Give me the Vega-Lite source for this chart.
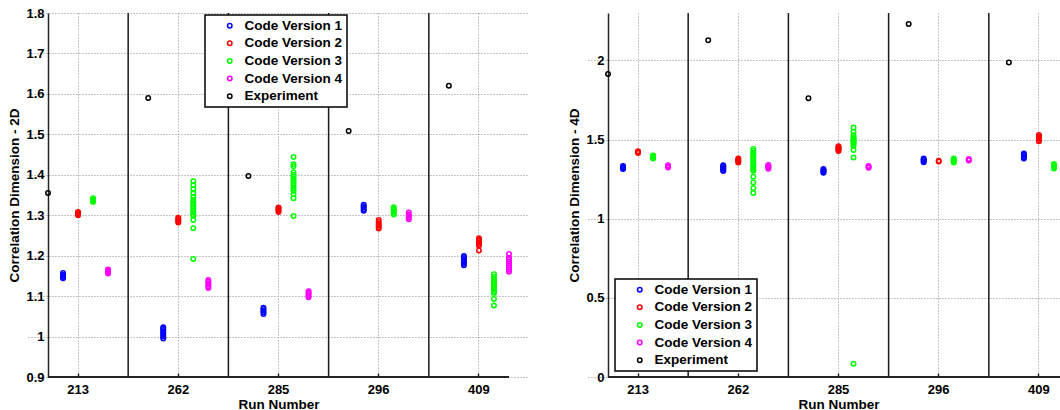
{
  "$schema": "https://vega.github.io/schema/vega-lite/v6.json",
  "background": "white",
  "padding": {"left": 7, "top": 7, "right": 0, "bottom": 0},
  "spacing": 17,
  "config": {
    "view": {"stroke": null},
    "font": "Liberation Sans",
    "point": {"shape": "circle", "filled": false, "size": 20, "strokeWidth": 1.5, "opacity": 1},
    "axis": {
      "domainColor": "#262626",
      "domainWidth": 1.5,
      "labelFont": "Liberation Sans",
      "labelFontWeight": "bold",
      "labelFontSize": 13,
      "labelColor": "#000000",
      "titleFont": "Liberation Sans",
      "titleFontWeight": "bold",
      "titleFontSize": 13.5,
      "titleColor": "#000000",
      "grid": true,
      "gridColor": "#8c8c8c",
      "gridDash": [1, 2],
      "gridWidth": 1,
      "gridOpacity": 1,
      "tickColor": "#262626",
      "tickWidth": 1.5
    },
    "axisX": {"domain": false, "tickSize": -4, "labelPadding": 10, "titlePadding": 1, "labelAngle": 0, "bandPosition": 0.5},
    "axisY": {"ticks": false, "labelPadding": 4, "titlePadding": 4},
    "legend": {
      "orient": "none",
      "title": null,
      "strokeColor": "#000000",
      "strokeWidth": 1.5,
      "fillColor": "#ffffff",
      "padding": 4,
      "rowPadding": 2.6,
      "symbolType": "circle",
      "symbolSize": 20,
      "symbolStrokeWidth": 1.5,
      "symbolOffset": 14,
      "labelOffset": 8,
      "labelFont": "Liberation Sans",
      "labelFontWeight": "bold",
      "labelFontSize": 13.5,
      "labelColor": "#000000"
    }
  },
  "datasets": {
    "separators": [{"run": 262}, {"run": 285}, {"run": 296}, {"run": 409}],
    "dim2": [
      {"run": 213, "series": "Experiment", "value": 1.355},
      {"run": 213, "series": "Code Version 1", "value": 1.144},
      {"run": 213, "series": "Code Version 1", "value": 1.147},
      {"run": 213, "series": "Code Version 1", "value": 1.150},
      {"run": 213, "series": "Code Version 1", "value": 1.153},
      {"run": 213, "series": "Code Version 1", "value": 1.157},
      {"run": 213, "series": "Code Version 2", "value": 1.300},
      {"run": 213, "series": "Code Version 2", "value": 1.302},
      {"run": 213, "series": "Code Version 2", "value": 1.304},
      {"run": 213, "series": "Code Version 2", "value": 1.306},
      {"run": 213, "series": "Code Version 2", "value": 1.308},
      {"run": 213, "series": "Code Version 3", "value": 1.333},
      {"run": 213, "series": "Code Version 3", "value": 1.335},
      {"run": 213, "series": "Code Version 3", "value": 1.337},
      {"run": 213, "series": "Code Version 3", "value": 1.339},
      {"run": 213, "series": "Code Version 3", "value": 1.342},
      {"run": 213, "series": "Code Version 4", "value": 1.156},
      {"run": 213, "series": "Code Version 4", "value": 1.158},
      {"run": 213, "series": "Code Version 4", "value": 1.161},
      {"run": 213, "series": "Code Version 4", "value": 1.164},
      {"run": 213, "series": "Code Version 4", "value": 1.166},
      {"run": 262, "series": "Experiment", "value": 1.590},
      {"run": 262, "series": "Code Version 1", "value": 0.995},
      {"run": 262, "series": "Code Version 1", "value": 1.000},
      {"run": 262, "series": "Code Version 1", "value": 1.004},
      {"run": 262, "series": "Code Version 1", "value": 1.008},
      {"run": 262, "series": "Code Version 1", "value": 1.012},
      {"run": 262, "series": "Code Version 1", "value": 1.016},
      {"run": 262, "series": "Code Version 1", "value": 1.020},
      {"run": 262, "series": "Code Version 1", "value": 1.023},
      {"run": 262, "series": "Code Version 2", "value": 1.282},
      {"run": 262, "series": "Code Version 2", "value": 1.285},
      {"run": 262, "series": "Code Version 2", "value": 1.288},
      {"run": 262, "series": "Code Version 2", "value": 1.291},
      {"run": 262, "series": "Code Version 2", "value": 1.294},
      {"run": 262, "series": "Code Version 3", "value": 1.384},
      {"run": 262, "series": "Code Version 3", "value": 1.374},
      {"run": 262, "series": "Code Version 3", "value": 1.364},
      {"run": 262, "series": "Code Version 3", "value": 1.355},
      {"run": 262, "series": "Code Version 3", "value": 1.345},
      {"run": 262, "series": "Code Version 3", "value": 1.338},
      {"run": 262, "series": "Code Version 3", "value": 1.332},
      {"run": 262, "series": "Code Version 3", "value": 1.327},
      {"run": 262, "series": "Code Version 3", "value": 1.322},
      {"run": 262, "series": "Code Version 3", "value": 1.317},
      {"run": 262, "series": "Code Version 3", "value": 1.312},
      {"run": 262, "series": "Code Version 3", "value": 1.307},
      {"run": 262, "series": "Code Version 3", "value": 1.302},
      {"run": 262, "series": "Code Version 3", "value": 1.298},
      {"run": 262, "series": "Code Version 3", "value": 1.288},
      {"run": 262, "series": "Code Version 3", "value": 1.268},
      {"run": 262, "series": "Code Version 3", "value": 1.192},
      {"run": 262, "series": "Code Version 4", "value": 1.120},
      {"run": 262, "series": "Code Version 4", "value": 1.124},
      {"run": 262, "series": "Code Version 4", "value": 1.128},
      {"run": 262, "series": "Code Version 4", "value": 1.132},
      {"run": 262, "series": "Code Version 4", "value": 1.136},
      {"run": 262, "series": "Code Version 4", "value": 1.140},
      {"run": 285, "series": "Experiment", "value": 1.397},
      {"run": 285, "series": "Code Version 1", "value": 1.056},
      {"run": 285, "series": "Code Version 1", "value": 1.060},
      {"run": 285, "series": "Code Version 1", "value": 1.064},
      {"run": 285, "series": "Code Version 1", "value": 1.068},
      {"run": 285, "series": "Code Version 1", "value": 1.071},
      {"run": 285, "series": "Code Version 2", "value": 1.308},
      {"run": 285, "series": "Code Version 2", "value": 1.311},
      {"run": 285, "series": "Code Version 2", "value": 1.314},
      {"run": 285, "series": "Code Version 2", "value": 1.317},
      {"run": 285, "series": "Code Version 2", "value": 1.319},
      {"run": 285, "series": "Code Version 3", "value": 1.444},
      {"run": 285, "series": "Code Version 3", "value": 1.426},
      {"run": 285, "series": "Code Version 3", "value": 1.421},
      {"run": 285, "series": "Code Version 3", "value": 1.406},
      {"run": 285, "series": "Code Version 3", "value": 1.400},
      {"run": 285, "series": "Code Version 3", "value": 1.395},
      {"run": 285, "series": "Code Version 3", "value": 1.389},
      {"run": 285, "series": "Code Version 3", "value": 1.384},
      {"run": 285, "series": "Code Version 3", "value": 1.379},
      {"run": 285, "series": "Code Version 3", "value": 1.373},
      {"run": 285, "series": "Code Version 3", "value": 1.366},
      {"run": 285, "series": "Code Version 3", "value": 1.360},
      {"run": 285, "series": "Code Version 3", "value": 1.352},
      {"run": 285, "series": "Code Version 3", "value": 1.342},
      {"run": 285, "series": "Code Version 3", "value": 1.298},
      {"run": 285, "series": "Code Version 4", "value": 1.097},
      {"run": 285, "series": "Code Version 4", "value": 1.101},
      {"run": 285, "series": "Code Version 4", "value": 1.105},
      {"run": 285, "series": "Code Version 4", "value": 1.109},
      {"run": 285, "series": "Code Version 4", "value": 1.112},
      {"run": 296, "series": "Experiment", "value": 1.508},
      {"run": 296, "series": "Code Version 1", "value": 1.311},
      {"run": 296, "series": "Code Version 1", "value": 1.315},
      {"run": 296, "series": "Code Version 1", "value": 1.319},
      {"run": 296, "series": "Code Version 1", "value": 1.322},
      {"run": 296, "series": "Code Version 1", "value": 1.326},
      {"run": 296, "series": "Code Version 2", "value": 1.267},
      {"run": 296, "series": "Code Version 2", "value": 1.271},
      {"run": 296, "series": "Code Version 2", "value": 1.275},
      {"run": 296, "series": "Code Version 2", "value": 1.279},
      {"run": 296, "series": "Code Version 2", "value": 1.283},
      {"run": 296, "series": "Code Version 2", "value": 1.288},
      {"run": 296, "series": "Code Version 3", "value": 1.302},
      {"run": 296, "series": "Code Version 3", "value": 1.306},
      {"run": 296, "series": "Code Version 3", "value": 1.310},
      {"run": 296, "series": "Code Version 3", "value": 1.314},
      {"run": 296, "series": "Code Version 3", "value": 1.317},
      {"run": 296, "series": "Code Version 3", "value": 1.320},
      {"run": 296, "series": "Code Version 4", "value": 1.290},
      {"run": 296, "series": "Code Version 4", "value": 1.294},
      {"run": 296, "series": "Code Version 4", "value": 1.298},
      {"run": 296, "series": "Code Version 4", "value": 1.302},
      {"run": 296, "series": "Code Version 4", "value": 1.307},
      {"run": 409, "series": "Experiment", "value": 1.620},
      {"run": 409, "series": "Code Version 1", "value": 1.176},
      {"run": 409, "series": "Code Version 1", "value": 1.180},
      {"run": 409, "series": "Code Version 1", "value": 1.184},
      {"run": 409, "series": "Code Version 1", "value": 1.188},
      {"run": 409, "series": "Code Version 1", "value": 1.192},
      {"run": 409, "series": "Code Version 1", "value": 1.196},
      {"run": 409, "series": "Code Version 1", "value": 1.199},
      {"run": 409, "series": "Code Version 2", "value": 1.213},
      {"run": 409, "series": "Code Version 2", "value": 1.225},
      {"run": 409, "series": "Code Version 2", "value": 1.229},
      {"run": 409, "series": "Code Version 2", "value": 1.233},
      {"run": 409, "series": "Code Version 2", "value": 1.237},
      {"run": 409, "series": "Code Version 2", "value": 1.240},
      {"run": 409, "series": "Code Version 2", "value": 1.243},
      {"run": 409, "series": "Code Version 3", "value": 1.154},
      {"run": 409, "series": "Code Version 3", "value": 1.147},
      {"run": 409, "series": "Code Version 3", "value": 1.142},
      {"run": 409, "series": "Code Version 3", "value": 1.137},
      {"run": 409, "series": "Code Version 3", "value": 1.132},
      {"run": 409, "series": "Code Version 3", "value": 1.127},
      {"run": 409, "series": "Code Version 3", "value": 1.122},
      {"run": 409, "series": "Code Version 3", "value": 1.117},
      {"run": 409, "series": "Code Version 3", "value": 1.112},
      {"run": 409, "series": "Code Version 3", "value": 1.108},
      {"run": 409, "series": "Code Version 3", "value": 1.093},
      {"run": 409, "series": "Code Version 3", "value": 1.077},
      {"run": 409, "series": "Code Version 4", "value": 1.204},
      {"run": 409, "series": "Code Version 4", "value": 1.195},
      {"run": 409, "series": "Code Version 4", "value": 1.190},
      {"run": 409, "series": "Code Version 4", "value": 1.185},
      {"run": 409, "series": "Code Version 4", "value": 1.180},
      {"run": 409, "series": "Code Version 4", "value": 1.175},
      {"run": 409, "series": "Code Version 4", "value": 1.170},
      {"run": 409, "series": "Code Version 4", "value": 1.165},
      {"run": 409, "series": "Code Version 4", "value": 1.160}
    ],
    "dim4": [
      {"run": 213, "series": "Experiment", "value": 1.915},
      {"run": 213, "series": "Code Version 1", "value": 1.314},
      {"run": 213, "series": "Code Version 1", "value": 1.319},
      {"run": 213, "series": "Code Version 1", "value": 1.324},
      {"run": 213, "series": "Code Version 1", "value": 1.329},
      {"run": 213, "series": "Code Version 1", "value": 1.334},
      {"run": 213, "series": "Code Version 2", "value": 1.415},
      {"run": 213, "series": "Code Version 2", "value": 1.421},
      {"run": 213, "series": "Code Version 2", "value": 1.427},
      {"run": 213, "series": "Code Version 3", "value": 1.381},
      {"run": 213, "series": "Code Version 3", "value": 1.386},
      {"run": 213, "series": "Code Version 3", "value": 1.391},
      {"run": 213, "series": "Code Version 3", "value": 1.395},
      {"run": 213, "series": "Code Version 3", "value": 1.399},
      {"run": 213, "series": "Code Version 4", "value": 1.324},
      {"run": 213, "series": "Code Version 4", "value": 1.331},
      {"run": 213, "series": "Code Version 4", "value": 1.338},
      {"run": 262, "series": "Experiment", "value": 2.128},
      {"run": 262, "series": "Code Version 1", "value": 1.302},
      {"run": 262, "series": "Code Version 1", "value": 1.308},
      {"run": 262, "series": "Code Version 1", "value": 1.314},
      {"run": 262, "series": "Code Version 1", "value": 1.320},
      {"run": 262, "series": "Code Version 1", "value": 1.326},
      {"run": 262, "series": "Code Version 1", "value": 1.332},
      {"run": 262, "series": "Code Version 1", "value": 1.338},
      {"run": 262, "series": "Code Version 2", "value": 1.356},
      {"run": 262, "series": "Code Version 2", "value": 1.362},
      {"run": 262, "series": "Code Version 2", "value": 1.368},
      {"run": 262, "series": "Code Version 2", "value": 1.374},
      {"run": 262, "series": "Code Version 2", "value": 1.380},
      {"run": 262, "series": "Code Version 3", "value": 1.440},
      {"run": 262, "series": "Code Version 3", "value": 1.428},
      {"run": 262, "series": "Code Version 3", "value": 1.416},
      {"run": 262, "series": "Code Version 3", "value": 1.404},
      {"run": 262, "series": "Code Version 3", "value": 1.392},
      {"run": 262, "series": "Code Version 3", "value": 1.380},
      {"run": 262, "series": "Code Version 3", "value": 1.368},
      {"run": 262, "series": "Code Version 3", "value": 1.356},
      {"run": 262, "series": "Code Version 3", "value": 1.344},
      {"run": 262, "series": "Code Version 3", "value": 1.332},
      {"run": 262, "series": "Code Version 3", "value": 1.320},
      {"run": 262, "series": "Code Version 3", "value": 1.310},
      {"run": 262, "series": "Code Version 3", "value": 1.303},
      {"run": 262, "series": "Code Version 3", "value": 1.266},
      {"run": 262, "series": "Code Version 3", "value": 1.229},
      {"run": 262, "series": "Code Version 3", "value": 1.193},
      {"run": 262, "series": "Code Version 3", "value": 1.163},
      {"run": 262, "series": "Code Version 4", "value": 1.316},
      {"run": 262, "series": "Code Version 4", "value": 1.322},
      {"run": 262, "series": "Code Version 4", "value": 1.328},
      {"run": 262, "series": "Code Version 4", "value": 1.334},
      {"run": 262, "series": "Code Version 4", "value": 1.340},
      {"run": 285, "series": "Experiment", "value": 1.761},
      {"run": 285, "series": "Code Version 1", "value": 1.290},
      {"run": 285, "series": "Code Version 1", "value": 1.296},
      {"run": 285, "series": "Code Version 1", "value": 1.302},
      {"run": 285, "series": "Code Version 1", "value": 1.308},
      {"run": 285, "series": "Code Version 1", "value": 1.314},
      {"run": 285, "series": "Code Version 2", "value": 1.428},
      {"run": 285, "series": "Code Version 2", "value": 1.434},
      {"run": 285, "series": "Code Version 2", "value": 1.440},
      {"run": 285, "series": "Code Version 2", "value": 1.446},
      {"run": 285, "series": "Code Version 2", "value": 1.452},
      {"run": 285, "series": "Code Version 2", "value": 1.458},
      {"run": 285, "series": "Code Version 3", "value": 1.577},
      {"run": 285, "series": "Code Version 3", "value": 1.549},
      {"run": 285, "series": "Code Version 3", "value": 1.528},
      {"run": 285, "series": "Code Version 3", "value": 1.513},
      {"run": 285, "series": "Code Version 3", "value": 1.505},
      {"run": 285, "series": "Code Version 3", "value": 1.498},
      {"run": 285, "series": "Code Version 3", "value": 1.492},
      {"run": 285, "series": "Code Version 3", "value": 1.485},
      {"run": 285, "series": "Code Version 3", "value": 1.478},
      {"run": 285, "series": "Code Version 3", "value": 1.470},
      {"run": 285, "series": "Code Version 3", "value": 1.460},
      {"run": 285, "series": "Code Version 3", "value": 1.435},
      {"run": 285, "series": "Code Version 3", "value": 1.387},
      {"run": 285, "series": "Code Version 3", "value": 0.084},
      {"run": 285, "series": "Code Version 4", "value": 1.322},
      {"run": 285, "series": "Code Version 4", "value": 1.328},
      {"run": 285, "series": "Code Version 4", "value": 1.334},
      {"run": 296, "series": "Experiment", "value": 2.231},
      {"run": 296, "series": "Code Version 1", "value": 1.357},
      {"run": 296, "series": "Code Version 1", "value": 1.363},
      {"run": 296, "series": "Code Version 1", "value": 1.369},
      {"run": 296, "series": "Code Version 1", "value": 1.375},
      {"run": 296, "series": "Code Version 1", "value": 1.381},
      {"run": 296, "series": "Code Version 2", "value": 1.362},
      {"run": 296, "series": "Code Version 2", "value": 1.366},
      {"run": 296, "series": "Code Version 3", "value": 1.356},
      {"run": 296, "series": "Code Version 3", "value": 1.362},
      {"run": 296, "series": "Code Version 3", "value": 1.368},
      {"run": 296, "series": "Code Version 3", "value": 1.374},
      {"run": 296, "series": "Code Version 3", "value": 1.380},
      {"run": 296, "series": "Code Version 4", "value": 1.368},
      {"run": 296, "series": "Code Version 4", "value": 1.373},
      {"run": 296, "series": "Code Version 4", "value": 1.378},
      {"run": 409, "series": "Experiment", "value": 1.987},
      {"run": 409, "series": "Code Version 1", "value": 1.381},
      {"run": 409, "series": "Code Version 1", "value": 1.389},
      {"run": 409, "series": "Code Version 1", "value": 1.397},
      {"run": 409, "series": "Code Version 1", "value": 1.405},
      {"run": 409, "series": "Code Version 1", "value": 1.413},
      {"run": 409, "series": "Code Version 2", "value": 1.489},
      {"run": 409, "series": "Code Version 2", "value": 1.497},
      {"run": 409, "series": "Code Version 2", "value": 1.505},
      {"run": 409, "series": "Code Version 2", "value": 1.513},
      {"run": 409, "series": "Code Version 2", "value": 1.521},
      {"run": 409, "series": "Code Version 2", "value": 1.529},
      {"run": 409, "series": "Code Version 3", "value": 1.318},
      {"run": 409, "series": "Code Version 3", "value": 1.325},
      {"run": 409, "series": "Code Version 3", "value": 1.332},
      {"run": 409, "series": "Code Version 3", "value": 1.339},
      {"run": 409, "series": "Code Version 3", "value": 1.346}
    ]
  },
  "resolve": {"scale": {"x": "independent", "y": "independent", "color": "independent"}, "legend": {"color": "independent"}},
  "hconcat": [
    {
      "width": 461,
      "height": 364,
      "layer": [
        {
          "data": {"name": "separators"},
          "mark": {"type": "rule", "color": "#1a1a1a", "strokeWidth": 1.5},
          "encoding": {
            "x": {
              "field": "run", "type": "nominal", "bandPosition": 0,
              "scale": {"domain": [213, 262, 285, 296, 409], "paddingInner": 0, "paddingOuter": 0, "range": [-20.04, 481.04]},
              "axis": {"title": "Run Number"}
            }
          }
        },
        {
          "data": {"name": "separators"},
          "mark": {"type": "rule", "color": "#262626", "strokeWidth": 1.5},
          "encoding": {"y": {"datum": 0.9}}
        },
        {
          "data": {"name": "dim2"},
          "encoding": {
            "y": {
              "field": "value", "type": "quantitative",
              "scale": {"domain": [0.9, 1.8], "nice": false, "zero": false},
              "axis": {"title": "Correlation Dimension - 2D", "values": [0.9, 1, 1.1, 1.2, 1.3, 1.4, 1.5, 1.6, 1.7, 1.8], "format": ".1~f"}
            },
            "color": {
              "field": "series", "type": "nominal",
              "scale": {"domain": ["Code Version 1", "Code Version 2", "Code Version 3", "Code Version 4", "Experiment"], "range": ["#0000ff", "#ff0000", "#00ff00", "#ff00ff", "#000000"]},
              "legend": {"legendX": 157, "legendY": 2}
            }
          },
          "layer": [
            {
              "transform": [{"filter": "datum.series === 'Experiment'"}],
              "mark": "point",
              "encoding": {"x": {"field": "run", "type": "nominal", "bandPosition": 0.2}}
            },
            {
              "transform": [{"filter": "datum.series === 'Code Version 1'"}],
              "mark": "point",
              "encoding": {"x": {"field": "run", "type": "nominal", "bandPosition": 0.35}}
            },
            {
              "transform": [{"filter": "datum.series === 'Code Version 2'"}],
              "mark": "point",
              "encoding": {"x": {"field": "run", "type": "nominal", "bandPosition": 0.5}}
            },
            {
              "transform": [{"filter": "datum.series === 'Code Version 3'"}],
              "mark": "point",
              "encoding": {"x": {"field": "run", "type": "nominal", "bandPosition": 0.65}}
            },
            {
              "transform": [{"filter": "datum.series === 'Code Version 4'"}],
              "mark": "point",
              "encoding": {"x": {"field": "run", "type": "nominal", "bandPosition": 0.8}}
            }
          ]
        }
      ]
    },
    {
      "width": 452,
      "height": 364,
      "layer": [
        {
          "data": {"name": "separators"},
          "mark": {"type": "rule", "color": "#1a1a1a", "strokeWidth": 1.5},
          "encoding": {
            "x": {
              "field": "run", "type": "nominal", "bandPosition": 0,
              "scale": {"domain": [213, 262, 285, 296, 409], "paddingInner": 0, "paddingOuter": 0, "range": [-20.04, 481.04]},
              "axis": {"title": "Run Number"}
            }
          }
        },
        {
          "data": {"name": "separators"},
          "mark": {"type": "rule", "color": "#262626", "strokeWidth": 1.5},
          "encoding": {"y": {"datum": 0}}
        },
        {
          "data": {"name": "dim4"},
          "encoding": {
            "y": {
              "field": "value", "type": "quantitative",
              "scale": {"domain": [0, 2.3], "nice": false, "zero": false},
              "axis": {"title": "Correlation Dimension - 4D", "values": [0, 0.5, 1, 1.5, 2], "format": ".1~f"}
            },
            "color": {
              "field": "series", "type": "nominal",
              "scale": {"domain": ["Code Version 1", "Code Version 2", "Code Version 3", "Code Version 4", "Experiment"], "range": ["#0000ff", "#ff0000", "#00ff00", "#ff00ff", "#000000"]},
              "legend": {"legendX": 7, "legendY": 266}
            }
          },
          "layer": [
            {
              "transform": [{"filter": "datum.series === 'Experiment'"}],
              "mark": "point",
              "encoding": {"x": {"field": "run", "type": "nominal", "bandPosition": 0.2}}
            },
            {
              "transform": [{"filter": "datum.series === 'Code Version 1'"}],
              "mark": "point",
              "encoding": {"x": {"field": "run", "type": "nominal", "bandPosition": 0.35}}
            },
            {
              "transform": [{"filter": "datum.series === 'Code Version 2'"}],
              "mark": "point",
              "encoding": {"x": {"field": "run", "type": "nominal", "bandPosition": 0.5}}
            },
            {
              "transform": [{"filter": "datum.series === 'Code Version 3'"}],
              "mark": "point",
              "encoding": {"x": {"field": "run", "type": "nominal", "bandPosition": 0.65}}
            },
            {
              "transform": [{"filter": "datum.series === 'Code Version 4'"}],
              "mark": "point",
              "encoding": {"x": {"field": "run", "type": "nominal", "bandPosition": 0.8}}
            }
          ]
        }
      ]
    }
  ]
}
